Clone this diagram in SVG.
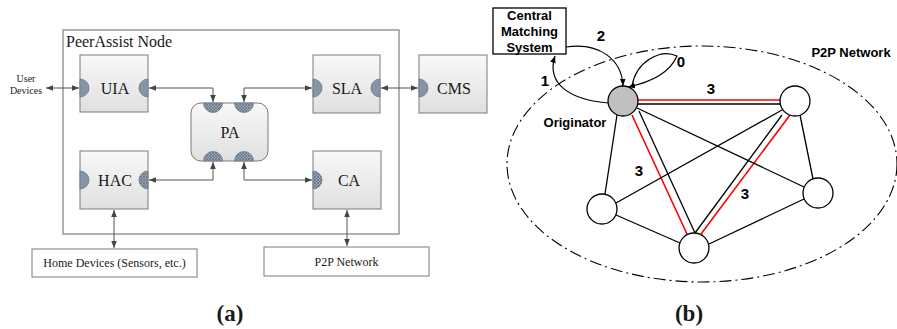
<svg xmlns="http://www.w3.org/2000/svg" width="897" height="329" viewBox="0 0 897 329">
<style>
.box{stroke:#7a7a7a;stroke-width:1;fill:url(#g)}
.plain{fill:#fff;stroke:#7a7a7a;stroke-width:1}
.serif{font-family:"Liberation Serif","Times New Roman",serif;fill:#1a1a1a}
.lbl{font-size:16px;text-anchor:middle}
.sm{font-size:12px;text-anchor:middle}
.semi{fill:#8595a6;stroke:#6a7888;stroke-width:0.8}
.hat{fill:url(#hatch);stroke:#6a7888;stroke-width:0.8}
.conn{fill:none;stroke:#555;stroke-width:1;marker-start:url(#ah);marker-end:url(#ah)}
.sans{font-family:"Liberation Sans",Arial,sans-serif;font-weight:bold;fill:#000}
.ed{stroke:#000;stroke-width:1.3;fill:none}
.red{stroke:#f00;stroke-width:1.6;fill:none}
.nd{fill:#fff;stroke:#000;stroke-width:1.3}
.arr{fill:none;stroke:#000;stroke-width:1.2;marker-end:url(#bh)}
</style>
<defs>
<linearGradient id="g" x1="0" y1="0" x2="0" y2="1"><stop offset="0" stop-color="#f8f8f8"/><stop offset="1" stop-color="#e0e0e0"/></linearGradient>
<pattern id="hatch" width="3" height="3" patternUnits="userSpaceOnUse"><rect width="3" height="3" fill="#9aa8b6"/><path d="M0,0 L3,3 M3,0 L0,3" stroke="#5c6a7a" stroke-width="0.7"/></pattern>
<marker id="ah" viewBox="0 0 10 10" refX="10" refY="5" markerWidth="7" markerHeight="7" orient="auto-start-reverse" markerUnits="userSpaceOnUse"><path d="M0,1 L10,5 L0,9 z" fill="#444"/></marker>
<marker id="bh" viewBox="0 0 10 10" refX="10" refY="5" markerWidth="7" markerHeight="7" orient="auto" markerUnits="userSpaceOnUse"><path d="M0,1 L10,5 L0,9 z" fill="#000"/></marker>
</defs>
<rect width="897" height="329" fill="#fff"/>

<!-- Panel (a) -->
<g id="peerassist-node">
<rect x="63" y="30" width="336" height="204" fill="none" stroke="#999" stroke-width="1.5"/>
<text x="66" y="47" class="serif" font-size="16">PeerAssist Node</text>
</g>
<g id="user-devices">
<text x="26" y="82" class="serif" font-size="10" text-anchor="middle">User</text>
<text x="26" y="94" class="serif" font-size="10" text-anchor="middle">Devices</text>
</g>
<g id="uia">
<rect x="80" y="55" width="68" height="57" class="box"/>
<path d="M80,79 A9,9 0 0 1 80,97 Z" class="semi"/>
<path d="M148,79 A9,9 0 0 0 148,97 Z" class="semi"/>
<text x="115" y="94" class="serif lbl">UIA</text>
</g>
<g id="sla">
<rect x="313" y="55" width="67" height="58" class="box"/>
<path d="M313,79 A9,9 0 0 1 313,97 Z" class="semi"/>
<path d="M380,79 A9,9 0 0 0 380,97 Z" class="semi"/>
<text x="347" y="94" class="serif lbl">SLA</text>
</g>
<g id="cms">
<rect x="419" y="55" width="68" height="58" class="box"/>
<path d="M419,79 A9,9 0 0 1 419,97 Z" class="semi"/>
<text x="454" y="94" class="serif lbl">CMS</text>
</g>
<g id="pa">
<rect x="191" y="103" width="77" height="58" rx="10" class="box"/>
<path d="M203.5,103 A9.5,9.5 0 0 0 222.5,103 Z" class="hat"/>
<path d="M234.5,103 A9.5,9.5 0 0 0 253.5,103 Z" class="hat"/>
<path d="M203.5,161 A9.5,9.5 0 0 1 222.5,161 Z" class="hat"/>
<path d="M234.5,161 A9.5,9.5 0 0 1 253.5,161 Z" class="hat"/>
<text x="230" y="138" class="serif lbl">PA</text>
</g>
<g id="hac">
<rect x="80" y="151" width="68" height="58" class="box"/>
<path d="M80,171 A9,9 0 0 1 80,189 Z" class="semi"/>
<path d="M148,171 A9,9 0 0 0 148,189 Z" class="hat"/>
<text x="115" y="186" class="serif lbl">HAC</text>
</g>
<g id="ca">
<rect x="313" y="151" width="68" height="58" class="box"/>
<path d="M313,171 A9,9 0 0 1 313,189 Z" class="hat"/>
<text x="349" y="186" class="serif lbl">CA</text>
</g>
<g id="home-devices">
<rect x="32" y="249" width="165" height="28" class="plain"/>
<text x="114.5" y="267" class="serif sm">Home Devices (Sensors, etc.)</text>
</g>
<g id="p2p-network-a">
<rect x="264" y="247" width="165" height="29" class="plain"/>
<text x="346.5" y="266" class="serif sm">P2P Network</text>
</g>
<text x="230" y="321" class="serif" font-size="23" font-weight="bold" text-anchor="middle">(a)</text>

<!-- Panel (b) -->
<g id="p2p-cloud">
<ellipse cx="702" cy="164" rx="195" ry="118" fill="none" stroke="#000" stroke-width="1.1" stroke-dasharray="12 4 2 4"/>
<text x="851" y="57" class="sans" font-size="13" text-anchor="middle">P2P Network</text>
</g>
<g id="central-matching-system">
<rect x="493" y="8" width="73" height="46" fill="#fff" stroke="#000" stroke-width="1.3"/>
<text x="529.5" y="20" class="sans" font-size="13" text-anchor="middle">Central</text>
<text x="529.5" y="36" class="sans" font-size="13" text-anchor="middle">Matching</text>
<text x="529.5" y="52" class="sans" font-size="13" text-anchor="middle">System</text>
</g>

<g id="connectors">
<path d="M46,88 H79" class="conn"/>
<path d="M149,88 H213 V102" class="conn"/>
<path d="M244,102 V88 H312" class="conn"/>
<path d="M381,88 H418" class="conn"/>
<path d="M149,180 H213 V162" class="conn"/>
<path d="M244,162 V180 H312" class="conn"/>
<path d="M114,210 V248" class="conn"/>
<path d="M347,210 V246" class="conn"/>

<path d="M609,103 C570,100 546,84 555,56" class="arr"/>
<path d="M566,47 C600,42 622,60 623,86" class="arr"/>
<path d="M632,86 C636,62 660,48 677,56 C670,72 652,82 628,87" class="arr"/>

<path d="M638,100 L780,100" class="red"/>
<path d="M638,104 L781,104" class="ed"/>
<path d="M632,115 L687,234" class="red"/>
<path d="M639,111 L695,233" class="ed"/>
<path d="M782,115 L695,233" class="ed"/>
<path d="M790,115 L701,234" class="red"/>
<path d="M617,115 L605,194" class="ed"/>
<path d="M637,108 L804,187" class="ed"/>
<path d="M616,203 L782,110" class="ed"/>
<path d="M616,215 L680,243" class="ed"/>
<path d="M709,244 L804,199" class="ed"/>
<path d="M800,115 L813,179" class="ed"/>
</g>

<g id="originator">
<circle cx="623" cy="101" r="15" fill="#c0c0c0" stroke="#000" stroke-width="1.3"/>
<text x="575" y="127" class="sans" font-size="13" text-anchor="middle">Originator</text>
</g>
<g id="node-a"><circle cx="795" cy="101" r="15" class="nd"/></g>
<g id="node-b"><circle cx="818" cy="193" r="15" class="nd"/></g>
<g id="node-c"><circle cx="694" cy="248" r="15" class="nd"/></g>
<g id="node-d"><circle cx="602" cy="209" r="15" class="nd"/></g>

<g id="labels">
<text x="545" y="86" class="sans" font-size="15" text-anchor="middle">1</text>
<text x="601" y="41" class="sans" font-size="15" text-anchor="middle">2</text>
<text x="681" y="67" class="sans" font-size="15" text-anchor="middle">0</text>
<text x="711" y="94" class="sans" font-size="15" text-anchor="middle">3</text>
<text x="639" y="176" class="sans" font-size="15" text-anchor="middle">3</text>
<text x="745" y="199" class="sans" font-size="15" text-anchor="middle">3</text>
</g>
<text x="689" y="321" class="serif" font-size="23" font-weight="bold" text-anchor="middle">(b)</text>
</svg>
